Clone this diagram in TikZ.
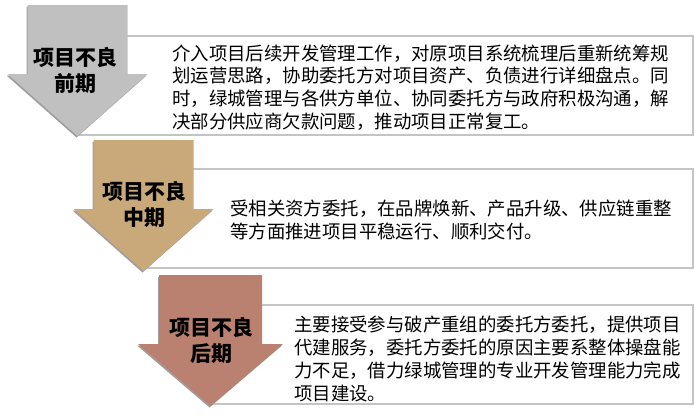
\documentclass[tikz,border=0pt]{standalone}
\usepackage{fontspec}
\setmainfont{Noto Sans CJK SC}
\usetikzlibrary{positioning}
\definecolor{earlygray}{RGB}{192,192,192}
\definecolor{midtan}{RGB}{201,169,122}
\definecolor{laterose}{RGB}{186,128,112}
\definecolor{boxline}{RGB}{196,196,196}
\tikzset{stagearrow/.style={preaction={fill=black!38, transform canvas={xshift=-1pt, yshift=-1.5pt}}},
stagelabel/.style={font=\fontsize{21}{26}\selectfont\bfseries, align=center, inner sep=0pt},
descbox/.style={draw=boxline, line width=1.5pt, fill=white, minimum height=99pt, inner sep=0pt},
desctext/.style={font=\fontsize{18.4}{22.8}\selectfont, align=left, inner sep=0pt, anchor=west},}

\begin{document}
\begin{tikzpicture}[x=1pt, y=-1pt]
\useasboundingbox (0,0) rectangle (700,415);
% text boxes behind the arrows
\node [descbox, minimum width=615pt] (box1) at (385.5,85.5) {};
\node [descbox, minimum width=549.5pt] (box2) at (418.25,218.5) {};
\node [descbox, minimum width=482.5pt] (box3) at (451.75,354.5) {};
% arrows
\fill[stagearrow, earlygray] (27.5,5) -- (127.5,5) -- (127.5,74) -- (147.5,74) -- (77.5,136) -- (7.5,74) -- (27.5,74) -- cycle;
\fill[stagearrow, midtan] (93.5,140) -- (193.5,140) -- (193.5,209) -- (213.5,209) -- (143.5,271) -- (73.5,209) -- (93.5,209) -- cycle;
\fill[stagearrow, laterose] (159,275) -- (262,275) -- (262,344) -- (283,344) -- (210.5,406) -- (138,344) -- (159,344) -- cycle;
\node [stagelabel] (early) at (75.5,70) {项目不良\\前期};
\node [stagelabel] (middle) at (144.5,204.5) {项目不良\\中期};
\node [stagelabel] (late) at (211.5,340) {项目不良\\后期};
% descriptions
\node [desctext] (text1) at (172,87.5) {介入项目后续开发管理工作，对原项目系统梳理后重新统筹规\\划运营思路，协助委托方对项目资产、负债进行详细盘点。同\\时，绿城管理与各供方单位、协同委托方与政府积极沟通，解\\决部分供应商欠款问题，推动项目正常复工。};
\node [desctext] (text2) at (230,220) {受相关资方委托，在品牌焕新、产品升级、供应链重整\\等方面推进项目平稳运行、顺利交付。};
\node [desctext] (text3) at (294,359) {主要接受参与破产重组的委托方委托，提供项目\\代建服务，委托方委托的原因主要系整体操盘能\\力不足，借力绿城管理的专业开发管理能力完成\\项目建设。};
\end{tikzpicture}
\end{document}
